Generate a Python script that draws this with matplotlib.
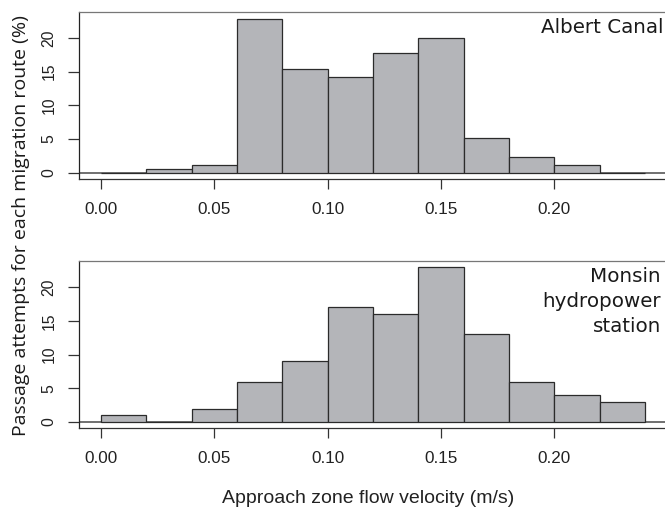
import matplotlib
matplotlib.use("Agg")
import matplotlib.pyplot as plt

# histogram bins (m/s) and percentage of passage attempts per route
bin_left = [0.00, 0.02, 0.04, 0.06, 0.08, 0.10, 0.12, 0.14, 0.16, 0.18, 0.20, 0.22]
bin_width = 0.02
albert = [0, 0.5, 1.1, 22.8, 15.4, 14.2, 17.7, 19.9, 5.1, 2.3, 1.1, 0]
monsin = [1, 0, 2, 6, 9, 17, 16, 23, 13, 6, 4, 3]
xticks = [0.00, 0.05, 0.10, 0.15, 0.20]
xticklabels = ["0.00", "0.05", "0.10", "0.15", "0.20"]
yticks = [0, 5, 10, 15, 20]

W, H = 665, 508
fig = plt.figure(figsize=(W / 100, H / 100), dpi=100)


def px(x, y):
    return x / W, 1 - y / H


bar_fill = "#b4b5b9"
edge = "#2b2b2b"
PT = 0.72  # points per pixel at 100 dpi


def panel(top, bottom, heights):
    x0, y1 = px(79.3, top)
    _, y0 = px(0, bottom)
    ax = fig.add_axes([x0, y0, 1.0 - x0, y1 - y0])
    ax.bar(bin_left, heights, width=bin_width, align="edge",
           color=bar_fill, edgecolor=edge, linewidth=0.9, zorder=3)
    ax.axhline(0, color="#707070", linewidth=1.4, zorder=2)
    ax.set_xlim(-0.0096, 0.2488)
    ax.set_ylim(-0.93, 23.87)
    ax.spines["right"].set_visible(False)
    ax.spines["top"].set_color("#777777")
    ax.spines["left"].set_color("#222222")
    ax.spines["bottom"].set_color("#333333")
    for s in ax.spines.values():
        s.set_linewidth(0.9)
    ax.set_xticks(xticks)
    ax.set_xticklabels(xticklabels, family="Liberation Sans", size=12.3,
                       color="#222222")
    ax.set_yticks(yticks)
    ax.set_yticklabels([str(v) for v in yticks], rotation=90, va="center",
                       family="Liberation Sans", size=11.3, color="#222222")
    ax.tick_params(axis="x", length=10 * PT, width=0.9, color="#333333",
                   pad=12.5 * PT)
    ax.tick_params(axis="y", length=11 * PT, width=0.9, color="#333333",
                   pad=12 * PT)
    return ax


ax1 = panel(11.7, 179.0, albert)
ax2 = panel(261.0, 428.3, monsin)

label_font = dict(family="DejaVu Sans", size=14.3, color="#1a1a1a")
fig.text(*px(663.3, 33.3), "Albert Canal", ha="right", va="baseline",
         **label_font)
for line, base in zip(["Monsin", "hydropower", "station"],
                      [281.7, 306.7, 331.7]):
    fig.text(*px(661.0, base), line, ha="right", va="baseline", **label_font)

fig.text(*px(21.5, 225.5), "Passage attempts for each migration route (%)",
         rotation=90, ha="center", va="center", family="Open Sans",
         size=14, color="#1a1a1a")
fig.text(*px(221.7, 502.7), "Approach zone flow velocity (m/s)",
         ha="left", va="baseline", family="Liberation Sans", size=14,
         color="#222222")

fig.savefig("out.png", dpi=100)
